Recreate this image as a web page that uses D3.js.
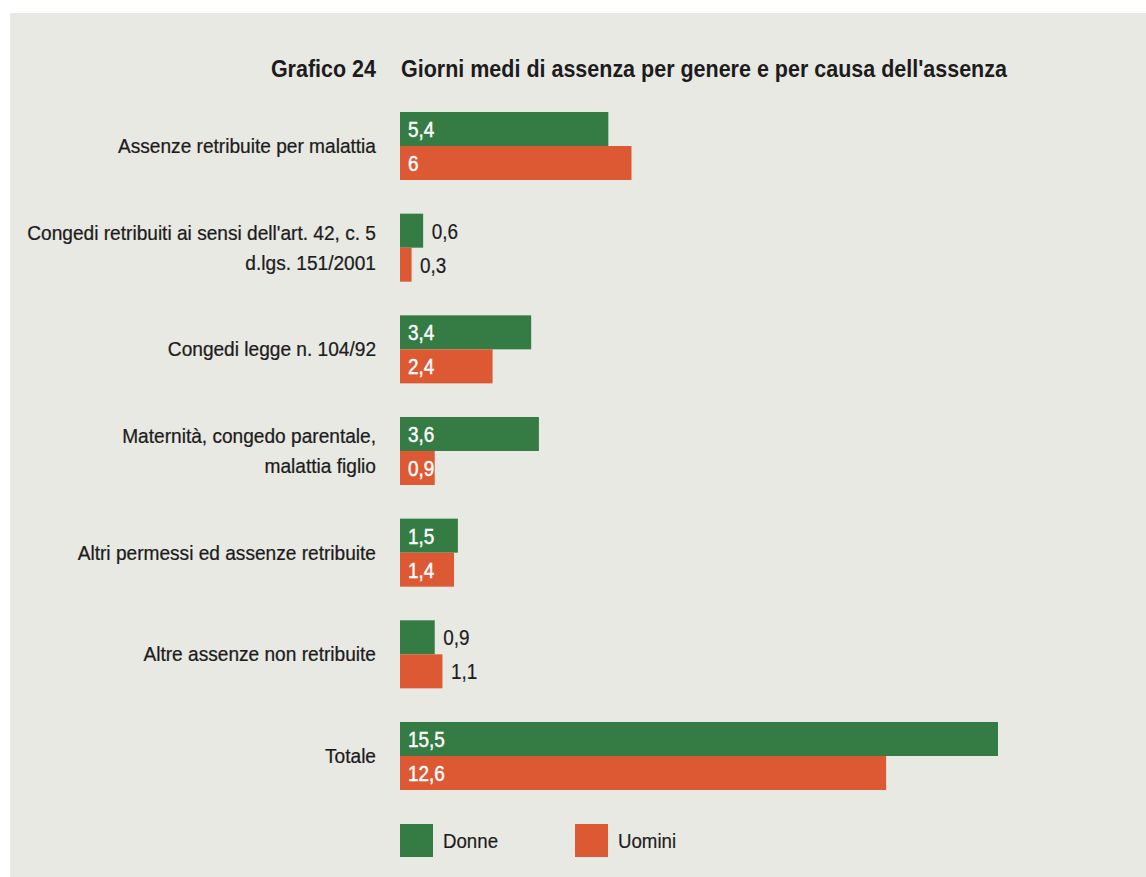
<!DOCTYPE html>
<html>
<head>
<meta charset="utf-8">
<script src="https://cdn.jsdelivr.net/npm/d3@7"></script>
<style>
  html, body { margin: 0; padding: 0; background: #ffffff; }
  svg { display: block; }
  text { font-family: "Liberation Sans Narrow", "Arial Narrow", "Liberation Sans", Arial, sans-serif; }
</style>
</head>
<body>
<svg id="chart" width="1146" height="877"></svg>
<script>
// Average days of absence by gender and cause
const categories = [
  ["Assenze retribuite per malattia"],
  ["Congedi retribuiti ai sensi dell'art. 42, c. 5", "d.lgs. 151/2001"],
  ["Congedi legge n. 104/92"],
  ["Maternità, congedo parentale,", "malattia figlio"],
  ["Altri permessi ed assenze retribuite"],
  ["Altre assenze non retribuite"],
  ["Totale"]
];
const seriesNames = ["Donne", "Uomini"];
const donne  = [5.4, 0.6, 3.4, 3.6, 1.5, 0.9, 15.5];
const uomini = [6, 0.3, 2.4, 0.9, 1.4, 1.1, 12.6];
const colors = ["#347b44", "#dc5934"];

const chartTitleNum = "Grafico 24";
const chartTitle = "Giorni medi di assenza per genere e per causa dell'assenza";

// labels printed to the right of the bar rather than inside it (category-series)
const labelOutside = new Set(["1-0", "1-1", "5-0", "5-1"]);

const svg = d3.select("#chart");
const W = 1146, H = 877;
const INK = "#1c1c1c";

// panel background
svg.append("rect").attr("x", 10).attr("y", 13).attr("width", W - 10).attr("height", H - 13)
  .attr("fill", "#e9e9e4");

// text drawn with a slight horizontal compression to get a condensed face
function label(parent, x, y, str, o) {
  const t = parent.append("text")
    .attr("transform", `translate(${x},${y}) scale(${o.sx || 1},1)`)
    .attr("font-size", o.size)
    .attr("font-weight", o.weight || "normal")
    .attr("text-anchor", o.anchor || "start")
    .attr("fill", o.fill || INK)
    .text(str);
  if (o.stroke) t.attr("stroke", o.fill || INK).attr("stroke-width", o.stroke);
  return t;
}

const fmt = v => String(v).replace(".", ",");
const catKeys = categories.map((c, i) => i);

const x = d3.scaleLinear().domain([0, 15.5]).range([400, 998]);
const y = d3.scaleBand().domain(catKeys).range([112, 790]).paddingInner(0.331).paddingOuter(0);
const ys = d3.scaleBand().domain(seriesNames).range([0, y.bandwidth()]);

const rows = catKeys.map(i => ({ i, values: [donne[i], uomini[i]] }));

// title
label(svg, 376, 77, chartTitleNum, { size: 23, sx: 0.935, weight: "bold", anchor: "end" });
label(svg, 401, 77, chartTitle, { size: 23, sx: 0.935, weight: "bold" });

// category labels
const catG = svg.append("g");
rows.forEach(r => {
  const lines = categories[r.i];
  const cy = y(r.i) + y.bandwidth() / 2;
  const lh = 30;
  lines.forEach((ln, k) => {
    label(catG, 376, cy + (k - (lines.length - 1) / 2) * lh + 7, ln,
      { size: 19.5, sx: 0.98, anchor: "end", stroke: 0.25 });
  });
});

// bars
const g = svg.append("g").selectAll("g").data(rows).join("g")
  .attr("transform", d => `translate(0,${y(d.i)})`);

const cells = d => d.values.map((v, k) => ({ v, k, key: `${d.i}-${k}` }));

g.selectAll("rect").data(cells).join("rect")
  .attr("x", x(0))
  .attr("y", d => ys(seriesNames[d.k]))
  .attr("width", d => x(d.v) - x(0))
  .attr("height", ys.bandwidth())
  .attr("fill", d => colors[d.k]);

// value labels
g.each(function(r) {
  const gg = d3.select(this);
  cells(r).forEach(d => {
    const out = labelOutside.has(d.key);
    const ty = ys(seriesNames[d.k]) + ys.bandwidth() / 2 + 8;
    label(gg, out ? x(d.v) + 8.5 : x(0) + 8, ty, fmt(d.v), {
      size: 21.5, sx: 0.88,
      fill: out ? INK : "#ffffff",
      stroke: out ? 0.2 : 0.45
    });
  });
});

// legend
const leg = svg.append("g").selectAll("g").data(seriesNames).join("g")
  .attr("transform", (d, k) => `translate(${400 + k * 175},824)`);
leg.append("rect").attr("width", 33).attr("height", 33).attr("fill", (d, k) => colors[k]);
leg.each(function(d) {
  label(d3.select(this), 43, 24, d, { size: 21, sx: 0.89, stroke: 0.2 });
});
</script>
</body>
</html>
